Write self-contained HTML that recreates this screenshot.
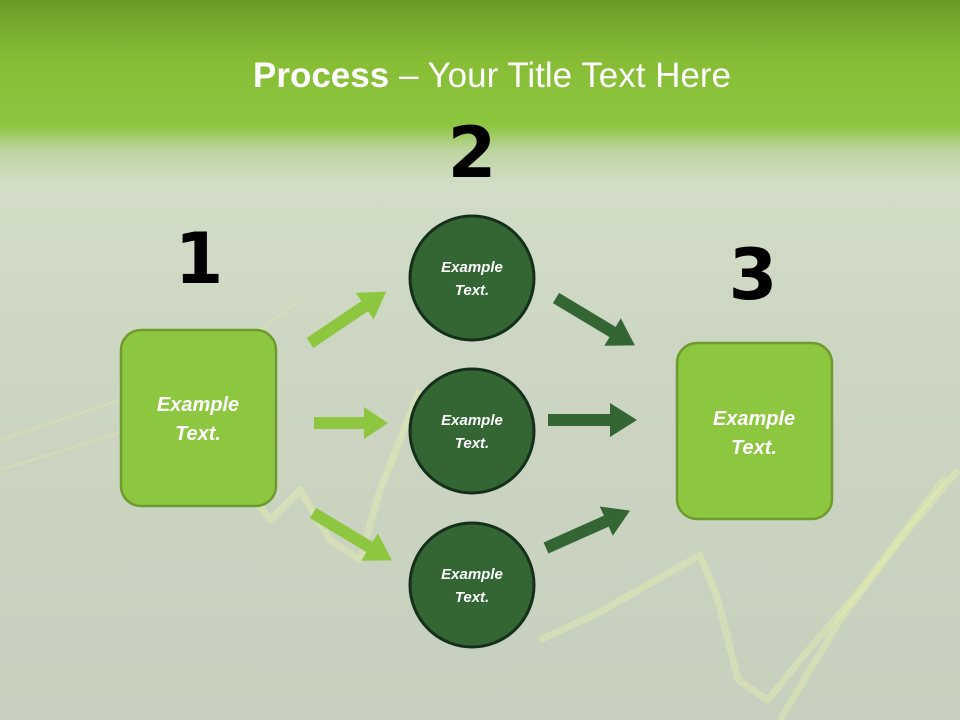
<!DOCTYPE html>
<html><head><meta charset="utf-8"><style>
html,body{margin:0;padding:0}
body{width:960px;height:720px;overflow:hidden;position:relative;font-family:"Liberation Sans",sans-serif;
background:linear-gradient(to bottom,#6b9a27 0px,#86bd35 60px,#8dc63f 125px,#bcd49e 150px,#d2ddc6 185px,#cdd6c2 350px,#c7cfbe 720px);}
svg{position:absolute;left:0;top:0}
.t{font-style:italic;font-weight:bold;fill:#fff;text-anchor:middle;font-family:"Liberation Sans",sans-serif}
.n{font-weight:bold;fill:#000;text-anchor:middle;font-family:"DejaVu Sans","Liberation Sans",sans-serif}
</style></head><body>
<svg width="960" height="720" viewBox="0 0 960 720">
<g fill="none" stroke="#eaf7a6" stroke-opacity="0.35" stroke-width="7" stroke-linejoin="round">
<polyline points="540,640 600,612 700,555 718,600 738,680 768,700 800,660 860,590 945,478"/>
<polyline points="780,720 840,620 900,540 958,470"/>
<polyline points="150,500 200,470 240,480 270,520 300,490 330,540 360,560 380,490 400,440 420,390"/>
</g>
<g fill="none" stroke="#eaf7a6" stroke-opacity="0.2" stroke-width="3">
<polyline points="0,440 60,420 120,400 180,380 240,345 300,300"/>
<polyline points="0,470 80,445 160,420 230,400"/>
</g>
<text x="492" y="87" font-size="35" fill="#fff" text-anchor="middle" font-family="Liberation Sans,sans-serif"><tspan font-weight="bold">Process</tspan> – Your Title Text Here</text>
<text class="n" x="472" y="177" font-size="70">2</text>
<text class="n" x="199" y="283" font-size="70">1</text>
<text class="n" x="753" y="299" font-size="70">3</text>
<rect x="121" y="330" width="155" height="176" rx="20" fill="#8dc63f" stroke="#6e9b2e" stroke-width="2.5"/>
<rect x="677" y="343" width="155" height="176" rx="20" fill="#8dc63f" stroke="#6e9b2e" stroke-width="2.5"/>
<text class="t" x="198" y="411" font-size="20">Example</text>
<text class="t" x="198" y="440" font-size="20">Text.</text>
<text class="t" x="754" y="425" font-size="20">Example</text>
<text class="t" x="754" y="454" font-size="20">Text.</text>
<g fill="#336633" stroke="#14301a" stroke-width="3">
<circle cx="472" cy="278" r="62"/><circle cx="472" cy="431" r="62"/><circle cx="472" cy="585" r="62"/>
</g>
<g font-size="15">
<text class="t" x="472" y="272">Example</text><text class="t" x="472" y="295">Text.</text>
<text class="t" x="472" y="425">Example</text><text class="t" x="472" y="448">Text.</text>
<text class="t" x="472" y="579">Example</text><text class="t" x="472" y="602">Text.</text>
</g>
<g fill="#8dc63f">
<polygon transform="translate(310,343) rotate(-34)" points="0,-6 66,-6 66,-16 92,0 66,16 66,6 0,6"/>
<polygon transform="translate(314,423)" points="0,-6 50,-6 50,-16 74,0 50,16 50,6 0,6"/>
<polygon transform="translate(313,513) rotate(31)" points="0,-6 66,-6 66,-16 92,0 66,16 66,6 0,6"/>
</g>
<g fill="#336633">
<polygon transform="translate(556,298) rotate(31)" points="0,-6 66,-6 66,-16 92,0 66,16 66,6 0,6"/>
<polygon transform="translate(548,420)" points="0,-6 62,-6 62,-17 89,0 62,17 62,6 0,6"/>
<polygon transform="translate(546,548) rotate(-24)" points="0,-6 66,-6 66,-16 92,0 66,16 66,6 0,6"/>
</g>
</svg>
</body></html>
